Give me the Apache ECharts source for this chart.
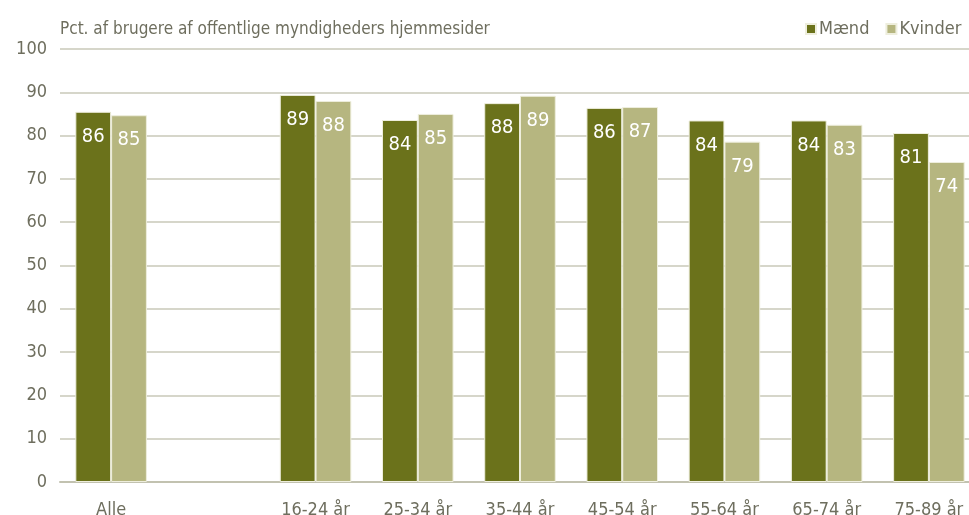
<!DOCTYPE html>
<html>
<head>
<meta charset="utf-8">
<script src="https://cdn.jsdelivr.net/npm/echarts@6/dist/echarts.min.js"></script>
<style>
  html, body { margin: 0; padding: 0; background: #fff; }
  #chart { width: 969px; height: 515px; }
</style>
</head>
<body>
<div id="chart"></div>
<script>
// kategorier - tom kategori giver mellemrum efter "Alle"
var categories = ["Alle", "", "16-24 år", "25-34 år", "35-44 år", "45-54 år", "55-64 år", "65-74 år", "75-89 år"];
var maend = [85.5, null, 89.4, 83.6, 87.5, 86.4, 83.5, 83.5, 80.6];
var kvinder = [84.7, null, 88.0, 85.0, 89.2, 86.6, 78.6, 82.5, 73.9];
var yTicks = [0, 10, 20, 30, 40, 50, 60, 70, 80, 90, 100];

var font = '"Liberation Sans Narrow", "DejaVu Sans Condensed", "Liberation Sans", sans-serif';
var textColor = "#6e6e5e";

var myChart = echarts.init(document.getElementById("chart"));

function barLabel() {
    return {
        show: true,
        position: "insideTop",
        distance: 15,
        color: "#fff",
        fontFamily: font,
        fontSize: 20,
        formatter: function (p) { return Math.round(p.value); }
    };
}

var option = {
    animation: false,
    title: {
        text: "Pct. af brugere af offentlige myndigheders hjemmesider",
        left: 55, top: 16,
        textStyle: { color: textColor, fontFamily: font, fontSize: 17, fontWeight: "normal" }
    },
    legend: {
        left: 800, top: 15,
        itemWidth: 10, itemHeight: 10, itemGap: 16,
        icon: "rect",
        textStyle: { color: textColor, fontFamily: font, fontSize: 18, padding: [0, 0, 0, -2] },
        data: ["Mænd", "Kvinder"]
    },
    grid: { left: 60, width: 920, top: 49, height: 433, containLabel: false, outerBoundsMode: "none" },
    xAxis: {
        type: "category",
        data: categories,
        axisTick: { show: false },
        axisLine: { lineStyle: { color: "#c2c2b0", width: 2 } },
        axisLabel: { color: textColor, fontFamily: font, fontSize: 18, margin: 19 }
    },
    yAxis: {
        type: "value",
        min: yTicks[0], max: yTicks[yTicks.length - 1], interval: 10,
        axisLine: { show: false },
        axisTick: { show: false },
        splitLine: { lineStyle: { color: "#c8c8b8", width: 1.5 } },
        axisLabel: { color: textColor, fontFamily: font, fontSize: 18, margin: 13 }
    },
    series: [
        {
            name: "Mænd", type: "bar", data: maend,
            barGap: "0%", barCategoryGap: "30%",
            itemStyle: { color: "#6b721b", borderColor: "#eeeedd", borderWidth: 1 },
            label: barLabel()
        },
        {
            name: "Kvinder", type: "bar", data: kvinder,
            itemStyle: { color: "#b6b680", borderColor: "#eeeedd", borderWidth: 1 },
            label: barLabel()
        }
    ]
};

myChart.setOption(option);
</script>
</body>
</html>
